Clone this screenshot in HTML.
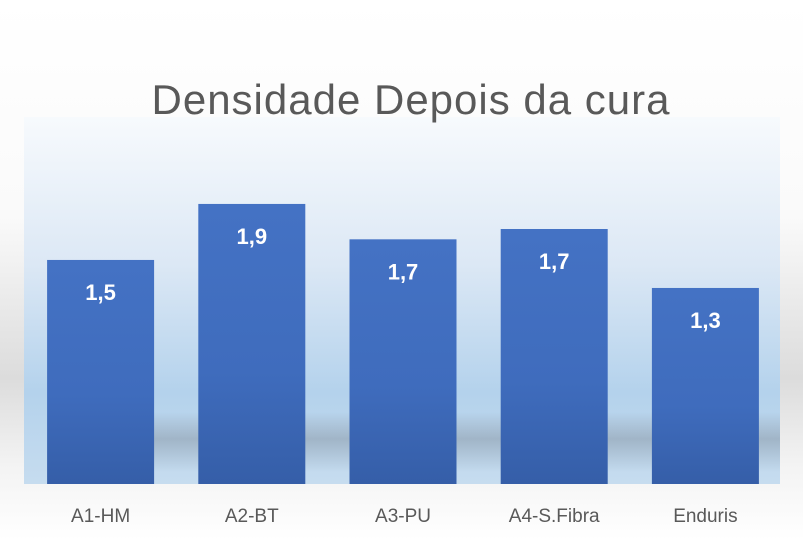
<!DOCTYPE html>
<html><head><meta charset="utf-8"><style>
body{margin:0;width:803px;height:540px;overflow:hidden;font-family:"Liberation Sans",sans-serif;}
#bg{position:absolute;left:0;top:0;width:803px;height:540px;background:linear-gradient(180deg,#fff 0%,#fafafa 40%,#dcdcdc 70%,#f3f3f3 86%,#fff 100%);}
</style></head><body>
<div id="bg"></div>
<svg id="c" width="803" height="540" style="position:absolute;left:0;top:0">
<defs>
<linearGradient id="pa" x1="0" y1="0" x2="0" y2="1">
<stop offset="0" stop-color="#f7fafd"/><stop offset="0.4" stop-color="#dce8f5"/><stop offset="0.75" stop-color="#b4d2ec"/><stop offset="1" stop-color="#c6dcef"/></linearGradient>
<linearGradient id="sh" x1="0" y1="0" x2="0" y2="1">
<stop offset="0" stop-color="#8a9aaa" stop-opacity="0"/><stop offset="0.45" stop-color="#8e9eae" stop-opacity="0.6"/><stop offset="1" stop-color="#8e9eae" stop-opacity="0"/></linearGradient>
<linearGradient id="bar" x1="0" y1="0" x2="0" y2="1">
<stop offset="0" stop-color="#4472c4"/><stop offset="0.6" stop-color="#3f6cbd"/><stop offset="1" stop-color="#355ea8"/></linearGradient>
</defs>
<rect x="24" y="117" width="756" height="367" fill="url(#pa)"/>
<rect x="60" y="412" width="720" height="60" fill="url(#sh)"/>
<text x="411" y="114" text-anchor="middle" font-size="42" letter-spacing="1" fill="#595959">Densidade Depois da cura</text>
<g id="bars"></g>
</svg>
<script>
const categories=["A1-HM","A2-BT","A3-PU","A4-S.Fibra","Enduris"];
const values=[1.52,1.90,1.66,1.73,1.33];
const baseY=484, pxPerUnit=147.4, left=25, band=151.2, barW=107;
function yOf(v){return baseY-v*pxPerUnit;}
function xOf(i){return left+band*i+band/2;}
const g=document.getElementById('bars');
const ns="http://www.w3.org/2000/svg";
categories.forEach((c,i)=>{
  const r=document.createElementNS(ns,'rect');
  r.setAttribute('x',xOf(i)-barW/2);r.setAttribute('y',yOf(values[i]));
  r.setAttribute('width',barW);r.setAttribute('height',baseY-yOf(values[i]));
  r.setAttribute('fill','url(#bar)');
  
  
  g.appendChild(r);
  const t=document.createElementNS(ns,'text');
  t.setAttribute('x',xOf(i));t.setAttribute('y',yOf(values[i])+40);
  t.setAttribute('text-anchor','middle');t.setAttribute('font-size','22');t.setAttribute('font-weight','bold');t.setAttribute('fill','#fff');
  t.textContent=values[i].toFixed(1).replace('.',',');
  
  
  g.appendChild(t);
  const l=document.createElementNS(ns,'text');
  l.setAttribute('x',xOf(i));l.setAttribute('y',522);
  l.setAttribute('text-anchor','middle');l.setAttribute('font-size','19');l.setAttribute('fill','#595959');
  l.textContent=c;
  
  
  g.appendChild(l);
});
</script>
</body></html>
